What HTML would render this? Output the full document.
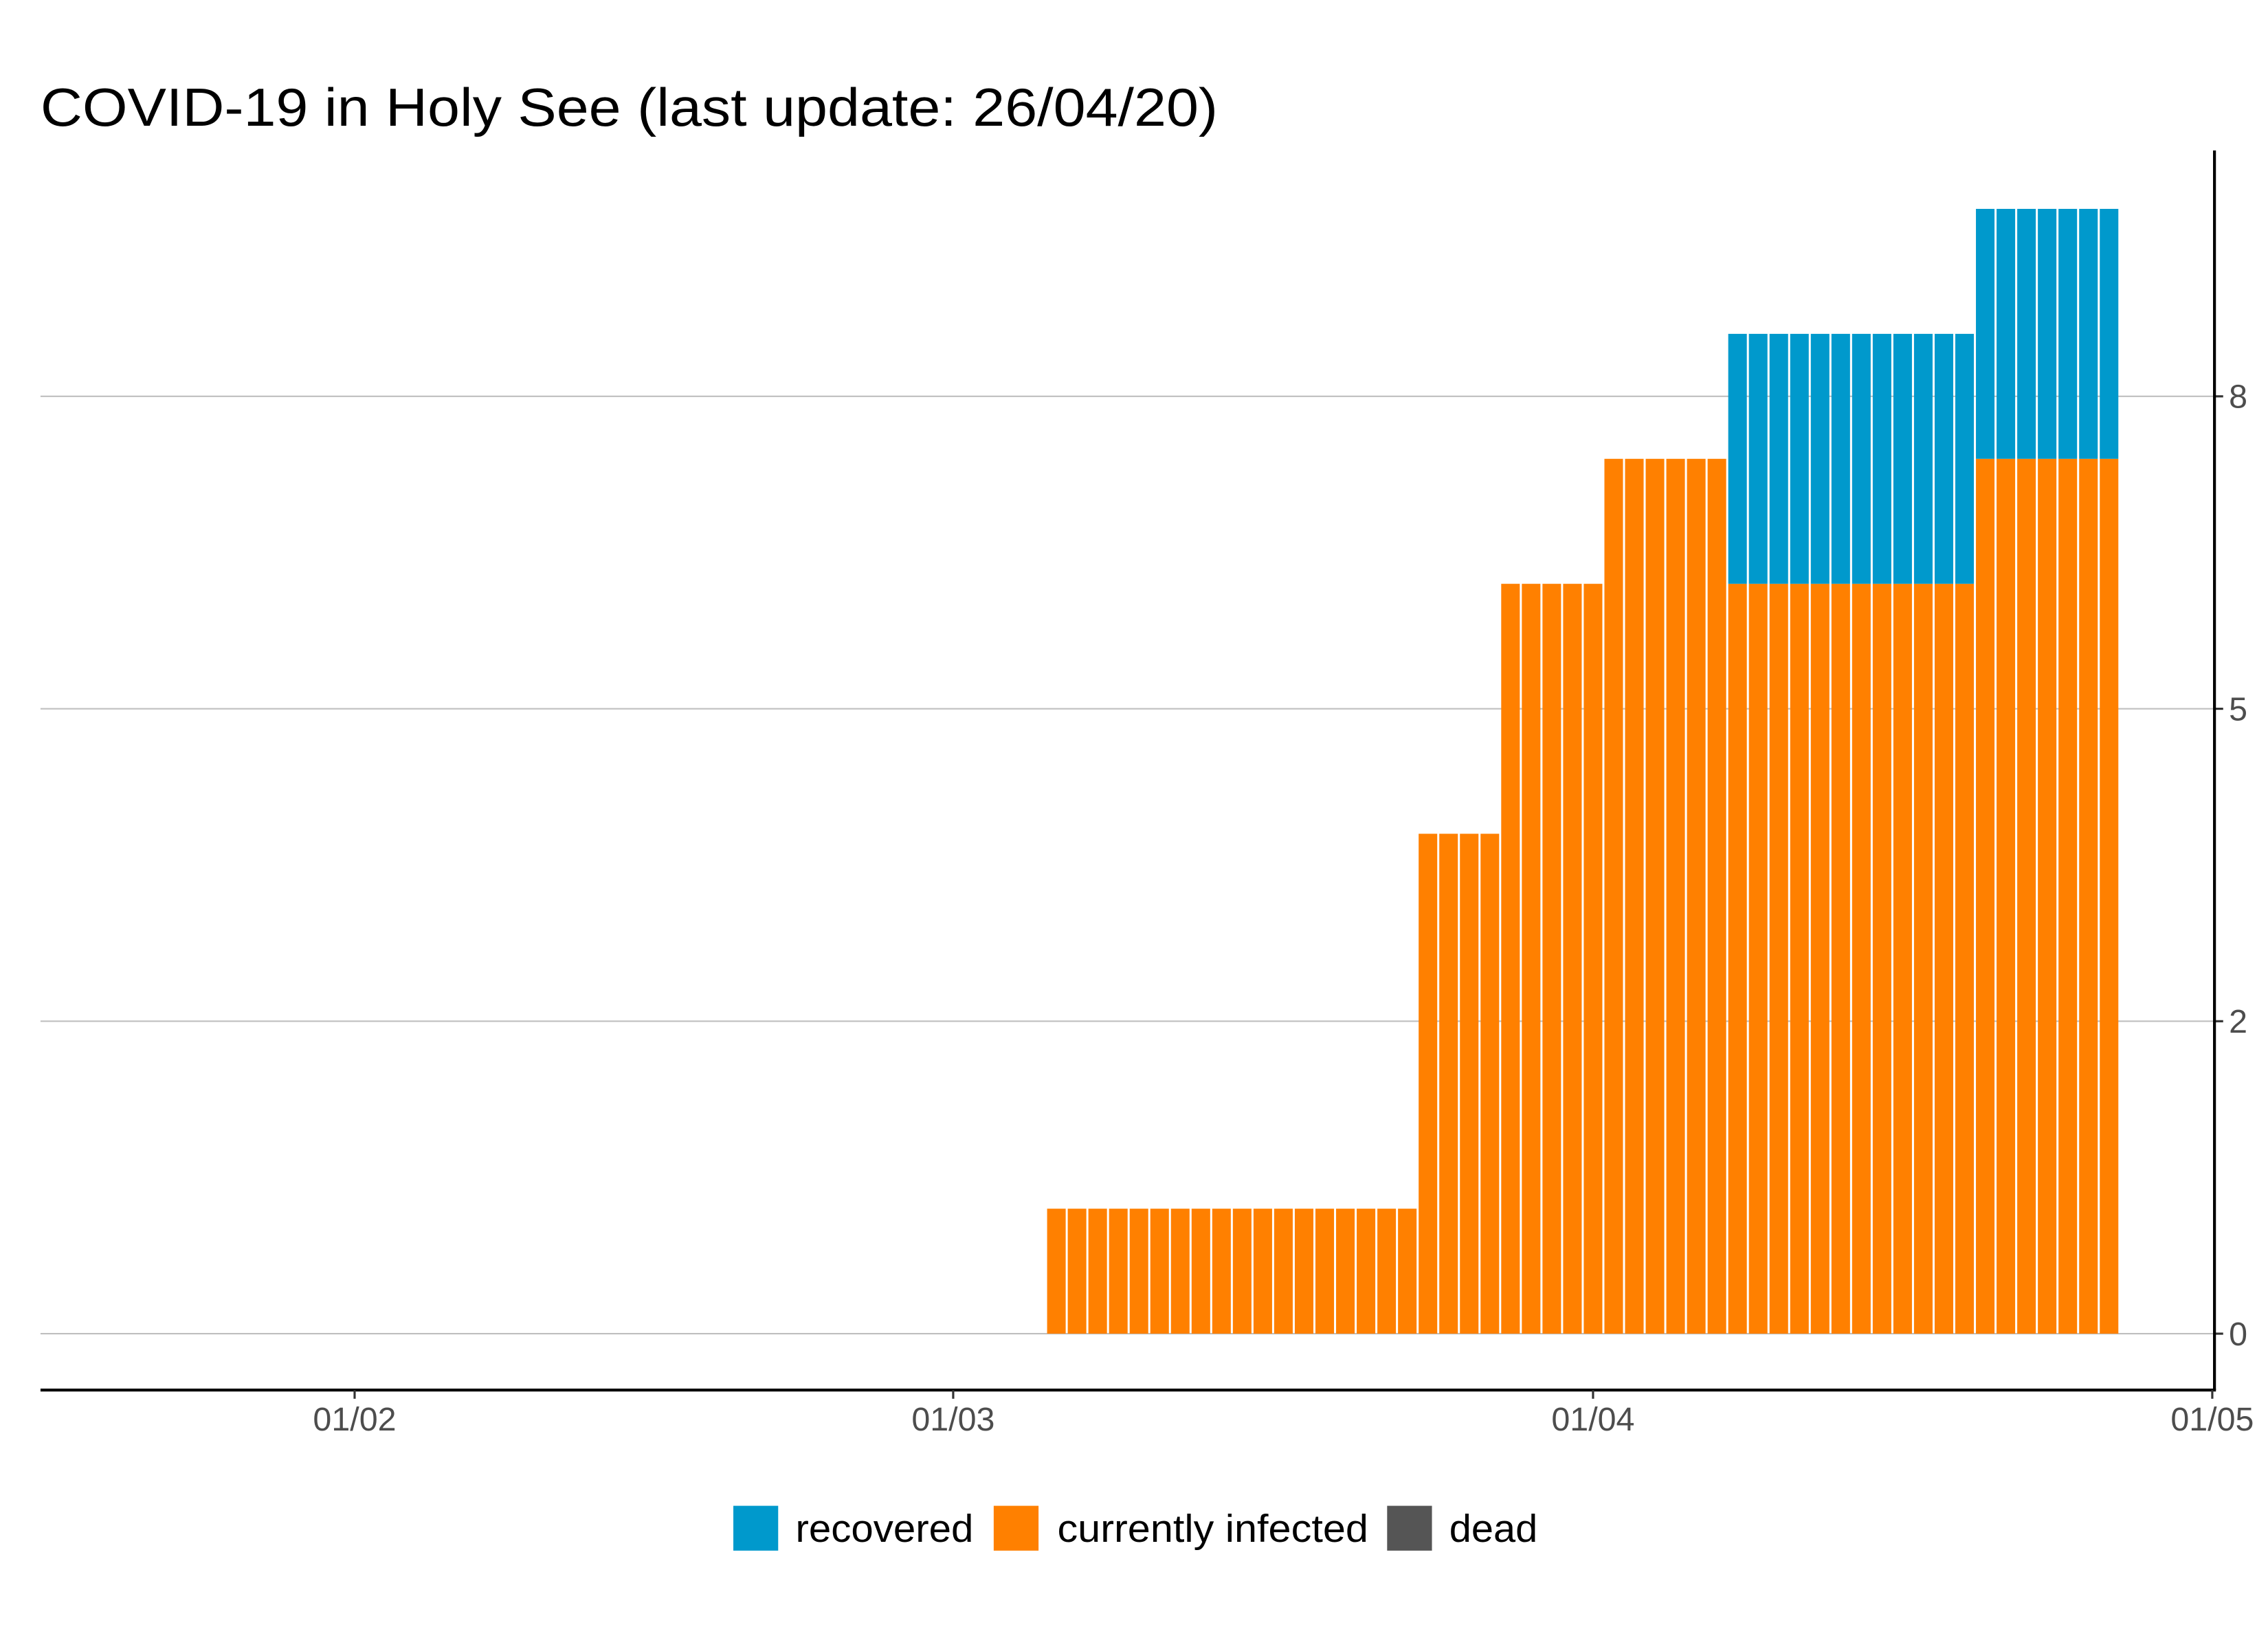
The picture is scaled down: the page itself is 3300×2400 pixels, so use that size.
<!DOCTYPE html>
<html><head><meta charset="utf-8"><style>
html,body{margin:0;padding:0;background:#fff;}
svg{display:block;}
text{font-family:"Liberation Sans",sans-serif;}
</style></head><body>
<svg id="chart" width="3300" height="2400" viewBox="0 0 1568 1140" preserveAspectRatio="none" xmlns="http://www.w3.org/2000/svg">
<rect width="1568" height="1140" fill="#fff"/>
<text x="28" y="87" font-size="37" fill="#000" textLength="814" lengthAdjust="spacingAndGlyphs">COVID-19 in Holy See (last update: 26/04/20)</text>
<g id="grid"></g>
<g id="bars"></g>
<g id="axes"></g>
<g>
<rect x="507" y="1041" width="31" height="31" fill="#0099cc"/>
<text x="550" y="1066" font-size="27" fill="#000" textLength="123" lengthAdjust="spacingAndGlyphs">recovered</text>
<rect x="687" y="1041" width="31" height="31" fill="#ff8000"/>
<text x="731" y="1066" font-size="27" fill="#000" textLength="215" lengthAdjust="spacingAndGlyphs">currently infected</text>
<rect x="959" y="1041" width="31" height="31" fill="#555555"/>
<text x="1002" y="1066" font-size="27" fill="#000" textLength="61" lengthAdjust="spacingAndGlyphs">dead</text>
</g>
</svg>
<script>
// day offsets relative to 01/03 (March 1, 2020)
const days = [5,6,7,8,9,10,11,12,13,14,15,16,17,18,19,20,21,22,23,24,25,26,27,28,29,30,31,32,33,34,35,36,37,38,39,40,41,42,43,44,45,46,47,48,49,50,51,52,53,54,55,56];
const infected = [1,1,1,1,1,1,1,1,1,1,1,1,1,1,1,1,1,1,4,4,4,4,6,6,6,6,6,7,7,7,7,7,7,6,6,6,6,6,6,6,6,6,6,6,6,7,7,7,7,7,7,7];
const recovered = [0,0,0,0,0,0,0,0,0,0,0,0,0,0,0,0,0,0,0,0,0,0,0,0,0,0,0,0,0,0,0,0,0,2,2,2,2,2,2,2,2,2,2,2,2,2,2,2,2,2,2,2];
const dead = [0,0,0,0,0,0,0,0,0,0,0,0,0,0,0,0,0,0,0,0,0,0,0,0,0,0,0,0,0,0,0,0,0,0,0,0,0,0,0,0,0,0,0,0,0,0,0,0,0,0,0,0];
const yTicks = [0,2.5,5,7.5];
const yTickLabels = ["0","2","5","8"];
const xTicks = [-29,0,31,61];
const xTickLabels = ["01/02","01/03","01/04","01/05"];

const NS="http://www.w3.org/2000/svg";
const X0=659, PXD=14.27, Y0=922, PXU=86.4;
const L=28, R=1531, T=104, B=961;
function sx(d){return X0+d*PXD;}
function sy(v){return Y0-v*PXU;}
function mk(tag,attrs,parent){const e=document.createElementNS(NS,tag);for(const k in attrs)e.setAttribute(k,attrs[k]);parent.appendChild(e);return e;}
const grid=document.getElementById('grid'),bars=document.getElementById('bars'),axes=document.getElementById('axes');
yTicks.forEach((v,i)=>{
  const g=mk('line',{x1:L,x2:R,y1:sy(v),y2:sy(v),stroke:'#bfbfbf','stroke-width':1},grid);
  
  
  const t=mk('line',{x1:R,x2:R+6,y1:sy(v),y2:sy(v),stroke:'#333','stroke-width':1.5},axes);
  
  
  const tx=mk('text',{x:R+10,y:sy(v)+8,'font-size':23,fill:'#4d4d4d'},axes);
  tx.textContent=yTickLabels[i];
  
  
});
const bw=PXD*0.9;
days.forEach((d,i)=>{
  let base=0;
  [[dead[i],'#555555','bar-dead'],[infected[i],'#ff8000','bar-infected'],[recovered[i],'#0099cc','bar-recovered']].forEach(([v,c,n])=>{
    if(v>0){
      const r=mk('rect',{x:sx(d)-bw/2,y:sy(base+v),width:bw,height:v*PXU,fill:c},bars);
      
      
    }
    base+=v;
  });
});
const ya=mk('line',{x1:R,x2:R,y1:T,y2:B,stroke:'#000','stroke-width':2},axes);


const xa=mk('line',{x1:L,x2:R+1,y1:B,y2:B,stroke:'#000','stroke-width':2},axes);


xTicks.forEach((d,i)=>{
  const t=mk('line',{x1:sx(d),x2:sx(d),y1:B,y2:B+6,stroke:'#333','stroke-width':1.5},axes);
  
  
  const tx=mk('text',{x:sx(d),y:B+28,'font-size':23,fill:'#4d4d4d','text-anchor':'middle'},axes);
  tx.textContent=xTickLabels[i];
  
  
});
</script>
</body></html>
